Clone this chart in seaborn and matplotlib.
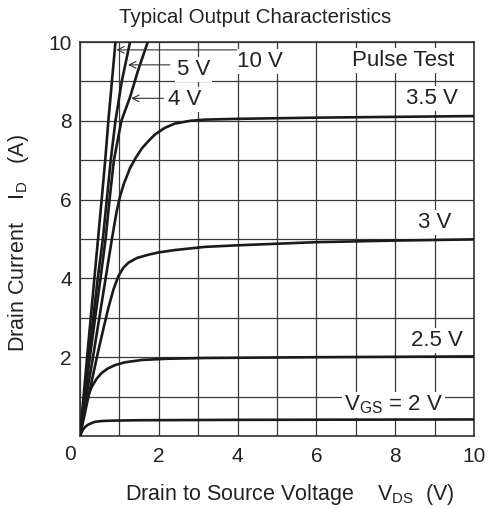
import matplotlib
matplotlib.use("Agg")
import matplotlib.pyplot as plt
import seaborn as sns
import pandas as pd

# ---- data ----
vds_10v = [0, 0.18, 0.365, 0.55, 0.64, 0.72, 0.81, 0.90]
id_10v = [0, 2, 4, 6, 7, 8, 9, 10]

vds_5v = [0, 0.22, 0.45, 0.58, 0.68, 0.78, 0.90, 1.06, 1.27]
id_5v = [0, 2, 4, 5, 6, 7, 8, 9, 10]

vds_4v = [0, 0.25, 0.52, 0.65, 0.75, 0.86, 1.05, 1.27, 1.48, 1.72]
id_4v = [0, 2, 4, 5, 6, 7, 8, 8.6, 9.3, 10]

vds_35v = [0, 0.16, 0.33, 0.49, 0.65, 0.81, 0.93, 1.02, 1.12, 1.27, 1.42, 1.57,
           1.75, 1.90, 2.15, 2.41, 2.8, 3.17, 4, 6, 8, 10]
id_35v = [0, 1, 2, 3, 4, 5, 5.7, 6.1, 6.42, 6.8, 7.07, 7.3,
          7.5, 7.65, 7.82, 7.93, 8.0, 8.03, 8.05, 8.08, 8.10, 8.12]

vds_3v = [0, 0.15, 0.30, 0.45, 0.60, 0.72, 0.85, 0.97, 1.1, 1.23, 1.45, 1.73,
          2.0, 2.41, 3.17, 4, 6, 8, 10]
id_3v = [0, 0.7, 1.4, 2.1, 2.75, 3.25, 3.72, 4.05, 4.27, 4.4, 4.52, 4.60,
         4.66, 4.72, 4.80, 4.84, 4.92, 4.96, 4.99]

vds_25v = [0, 0.06, 0.13, 0.21, 0.30, 0.42, 0.55, 0.70, 0.89, 1.14, 1.57, 2.2,
           3.17, 6, 10]
id_25v = [0, 0.38, 0.74, 1.03, 1.25, 1.45, 1.60, 1.71, 1.80, 1.87, 1.93, 1.96,
          1.98, 2.0, 2.02]

vds_2v = [0, 0.04, 0.08, 0.14, 0.21, 0.30, 0.38, 0.55, 0.8, 1.5, 4, 10]
id_2v = [0, 0.09, 0.17, 0.24, 0.29, 0.33, 0.36, 0.38, 0.39, 0.40, 0.41, 0.42]

curves = {
    "10 V": (vds_10v, id_10v),
    "5 V": (vds_5v, id_5v),
    "4 V": (vds_4v, id_4v),
    "3.5 V": (vds_35v, id_35v),
    "3 V": (vds_3v, id_3v),
    "2.5 V": (vds_25v, id_25v),
    "2 V": (vds_2v, id_2v),
}

tick_values = list(range(0, 11))
tick_labels = ["" if (v % 2 or v == 0) else str(v) for v in tick_values]

title = "Typical Output Characteristics"
xlabel = r"Drain to Source Voltage    $\mathrm{V_{DS}}$  (V)"
ylabel = r"Drain Current    $\mathrm{I_D}$   (A)"

rows = []
for name, (xs, ys) in curves.items():
    for x, y in zip(xs, ys):
        rows.append({"vgs": name, "vds": x, "id": y})
df = pd.DataFrame(rows)

# ---- styling ----
sns.set_style("white")
plt.rcParams["font.family"] = ["Liberation Sans", "DejaVu Sans"]
plt.rcParams["mathtext.fontset"] = "custom"
plt.rcParams["mathtext.rm"] = "Liberation Sans"
plt.rcParams["mathtext.it"] = "Liberation Sans:italic"
plt.rcParams["mathtext.bf"] = "Liberation Sans:bold"

fig = plt.figure(figsize=(4.89, 5.08), dpi=100)
ax = fig.add_axes([80 / 489, 72 / 508, 394 / 489, 394 / 508])

sns.lineplot(data=df, x="vds", y="id", units="vgs", estimator=None, sort=False,
             color="#1a1a1a", linewidth=1.9, ax=ax, legend=False, zorder=3)

ax.set_xlim(0, 10)
ax.set_ylim(0, 10)
ax.set_xticks(tick_values)
ax.set_yticks(tick_values)
ax.set_xticklabels(tick_labels)
ax.set_yticklabels(tick_labels)
ax.tick_params(axis="both", length=0, labelsize=15, colors="#222222")
ax.tick_params(axis="x", pad=8)
ax.tick_params(axis="y", pad=6)
ax.grid(True, color="#3a3a3a", linewidth=0.9, zorder=1)
ax.set_axisbelow(True)
for s in ax.spines.values():
    s.set_color("#333333")
    s.set_linewidth(1.2)

ax.text(-0.25, -0.48, "0", ha="center", va="center", fontsize=15,
        color="#222222", clip_on=False)

ax.set_xlabel(xlabel, fontsize=15.5, color="#222222")
ax.xaxis.set_label_coords(0.533, -0.149)
ax.xaxis.label.set_va("center")
ax.set_ylabel(ylabel, fontsize=15.5, color="#222222")
ax.yaxis.set_label_coords(-0.157, 0.49)
ax.yaxis.label.set_va("center")

ax.text(0.444, 1.061, title, transform=ax.transAxes, ha="center", va="center",
        fontsize=14.8, color="#222222")

bbox = dict(facecolor="white", edgecolor="none", pad=1.5)
label_kw = dict(ha="center", va="center", fontsize=16, color="#222222",
                bbox=bbox, zorder=4)
ax.text(4.57, 9.5, "10 V", **label_kw)
ax.text(2.88, 9.29, "5 V", **label_kw)
ax.text(2.66, 8.53, "4 V", **label_kw)
ax.text(8.21, 9.54, "Pulse Test", **label_kw)
ax.text(8.92, 8.57, "3.5 V", **label_kw)
ax.text(9.01, 5.41, "3 V", **label_kw)
ax.text(9.05, 2.42, "2.5 V", **label_kw)
ax.text(7.95, 0.79, r"$\mathrm{V_{GS}}$ = 2 V", **label_kw)

arrow_kw = dict(arrowstyle="->", lw=0.8, color="#333333", shrinkA=0, shrinkB=0,
                mutation_scale=12)
ax.annotate("", xy=(0.92, 9.8), xytext=(3.98, 9.8), arrowprops=arrow_kw, zorder=5)
ax.annotate("", xy=(1.22, 9.42), xytext=(2.28, 9.42), arrowprops=arrow_kw, zorder=5)
ax.annotate("", xy=(1.30, 8.57), xytext=(2.12, 8.57), arrowprops=arrow_kw, zorder=5)

fig.savefig("out.png", dpi=100)
